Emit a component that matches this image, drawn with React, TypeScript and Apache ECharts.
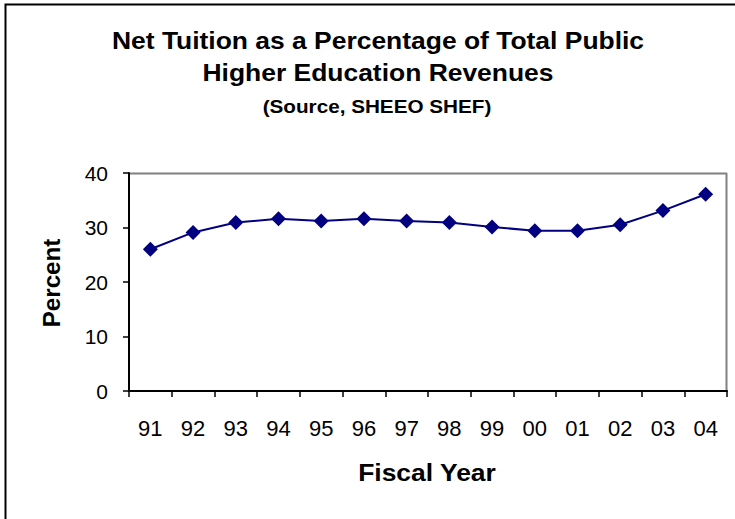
import React, { useEffect, useRef } from "react";
import * as echarts from "echarts";

const years = ["91", "92", "93", "94", "95", "96", "97", "98", "99", "00", "01", "02", "03", "04"];
const netTuitionPct = [26.0, 29.1, 30.9, 31.6, 31.2, 31.6, 31.2, 30.9, 30.1, 29.4, 29.4, 30.5, 33.1, 36.1];
const yTicks = { min: 0, max: 40, interval: 10 };
const titleLines = ["Net Tuition as a Percentage of Total Public", "Higher Education Revenues"];
const subtitle = "(Source, SHEEO SHEF)";
const xName = "Fiscal Year";
const yName = "Percent";

const FONT = "'Liberation Sans', Arial, sans-serif";

export default function App() {
  const ref = useRef<HTMLDivElement>(null);
  useEffect(() => {
    if (!ref.current) return;
    const chart = echarts.init(ref.current, null, { renderer: "svg" });
    const boldText = (text: string, x: number, y: number, size: number, sx: number, rotation = 0) => ({
      type: "text",
      x,
      y,
      rotation,
      scaleX: sx,
      silent: true,
      style: {
        text,
        fontFamily: FONT,
        fontSize: size,
        fontWeight: "bold",
        fill: "#000",
        align: "center",
        verticalAlign: "middle",
      },
    });
    chart.setOption({
      animation: false,
      backgroundColor: "#ffffff",
      textStyle: { fontFamily: FONT },
      graphic: [
        {
          type: "rect",
          shape: { x: 5.5, y: 4.5, width: 760, height: 540 },
          style: { fill: "none", stroke: "#000", lineWidth: 2 },
          silent: true,
        },
        {
          type: "line",
          shape: { x1: 129, y1: 173.5, x2: 727, y2: 173.5 },
          style: { stroke: "#808080", lineWidth: 2 },
          silent: true,
        },
        {
          type: "line",
          shape: { x1: 726.5, y1: 173, x2: 726.5, y2: 391 },
          style: { stroke: "#808080", lineWidth: 2 },
          silent: true,
        },
        boldText(titleLines[0], 378, 41, 23, 1.15),
        boldText(titleLines[1], 378, 73, 23, 1.15),
        boldText(subtitle, 377, 107, 18, 1.15),
        boldText(xName, 427, 473, 23, 1.15),
        {
          type: "group",
          x: 52,
          y: 283,
          rotation: Math.PI / 2,
          children: [
            {
              type: "text",
              x: 0,
              y: 0,
              scaleX: 1.05,
              silent: true,
              style: {
                text: yName,
                fontFamily: FONT,
                fontSize: 23,
                fontWeight: "bold",
                fill: "#000",
                align: "center",
                verticalAlign: "middle",
              },
            },
          ],
        },
      ],
      grid: { left: 129, right: 8, top: 173, bottom: 128, containLabel: false },
      xAxis: {
        type: "category",
        data: years,
        boundaryGap: true,
        axisLine: { lineStyle: { color: "#000", width: 2 } },
        axisTick: { show: true, alignWithLabel: false, length: 6, lineStyle: { color: "#000", width: 1.5 } },
        axisLabel: { fontFamily: FONT, fontSize: 22, color: "#000", margin: 26, interval: 0 },
        splitLine: { show: false },
      },
      yAxis: {
        type: "value",
        min: yTicks.min,
        max: yTicks.max,
        interval: yTicks.interval,
        axisLine: { show: true, lineStyle: { color: "#000", width: 2 } },
        axisTick: { show: true, length: 6, lineStyle: { color: "#000", width: 1.5 } },
        axisLabel: { fontFamily: FONT, fontSize: 21, color: "#000", margin: 21 },
        splitLine: { show: false },
      },
      series: [
        {
          type: "line",
          data: netTuitionPct,
          symbol: "diamond",
          symbolSize: 15,
          itemStyle: { color: "#000080" },
          lineStyle: { color: "#000080", width: 2 },
        },
      ],
    });
    return () => chart.dispose();
  }, []);
  return <div ref={ref} style={{ position: "absolute", left: 0, top: 0, width: 735, height: 519 }} />;
}
